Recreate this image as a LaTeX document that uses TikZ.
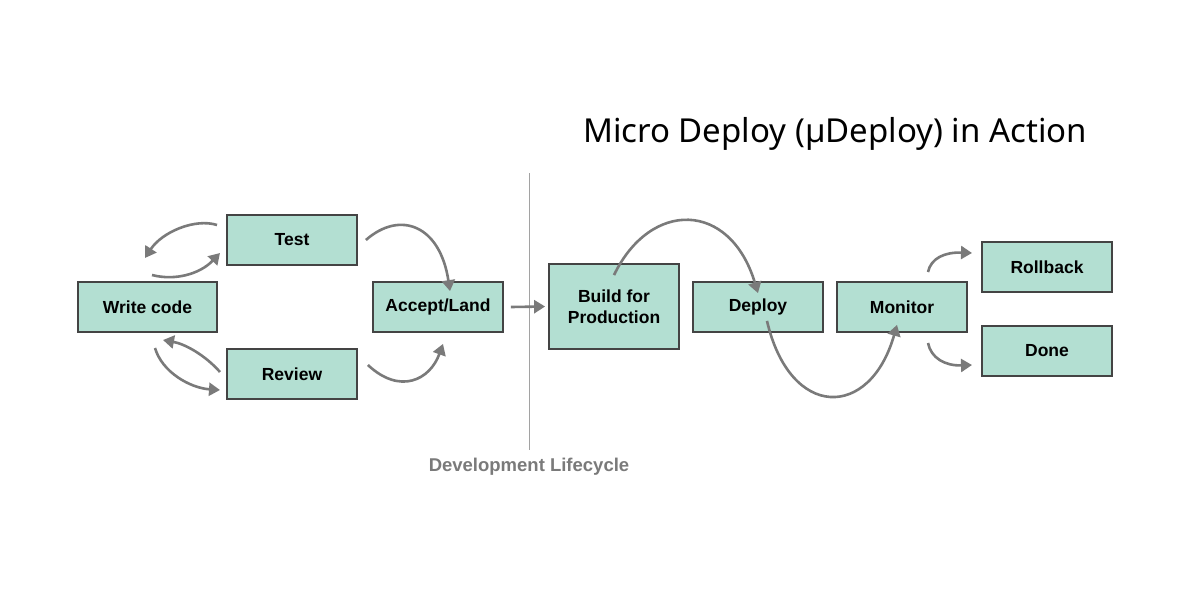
\documentclass[tikz,border=0pt]{standalone}
\usepackage{fontspec}
\setmainfont{Liberation Sans}
\newfontfamily\titlefont{Noto Sans}
\usetikzlibrary{arrows.meta}
\definecolor{boxfill}{HTML}{B3DFD2}
\definecolor{boxline}{HTML}{444444}
\definecolor{arr}{HTML}{7A7A7A}
\begin{document}
\begin{tikzpicture}[x=1pt,y=-1pt,
  box/.style={draw=boxline,line width=1.8pt,fill=boxfill,font=\bfseries\fontsize{17.5}{21}\selectfont,align=center,inner sep=0pt},
  ar/.style={draw=arr,line width=2.6pt,-{Triangle[length=11pt,width=13pt]}}]
\useasboundingbox (0,0) rectangle (1200,600);
\node[box,minimum width=139pt,minimum height=50pt] (wc) at (147.5,307) {Write code};
\node[box,minimum width=130pt,minimum height=50pt] (test) at (292,240) {Test};
\node[box,minimum width=130pt,minimum height=50pt] (rev) at (292,374) {Review};
\node[box,minimum width=130pt,minimum height=50pt] (acc) at (438,307) {Accept/Land};
\node[box,minimum width=130pt,minimum height=85pt] (build) at (614,306.5) {Build for\\Production};
\node[box,minimum width=130pt,minimum height=50pt] (dep) at (758,307) {Deploy};
\node[box,minimum width=130pt,minimum height=50pt] (mon) at (902,307) {Monitor};
\node[box,minimum width=130pt,minimum height=50pt] (rb) at (1047,267) {Rollback};
\node[box,minimum width=130pt,minimum height=50pt] (done) at (1047,351) {Done};
\node[font=\titlefont\fontsize{33}{38}\selectfont,anchor=center] (title) at (835,134) {Micro Deploy (µDeploy) in Action};
\coordinate (l1) at (529,173); \coordinate (l2) at (529,450);
\draw[arr!70,line width=1pt] (l1) -- (l2);
\node[font=\bfseries\fontsize{18.5}{22}\selectfont,text=arr] (dl) at (529,467) {Development Lifecycle};
% loop end points
\coordinate (t1) at (217,225); \coordinate (w1) at (145,258);
\coordinate (w2) at (152,275); \coordinate (t2) at (220,253);
\coordinate (r1) at (220,372); \coordinate (w3) at (163,340);
\coordinate (w4) at (155,348); \coordinate (r2) at (220,390);
\coordinate (m1) at (928,272); \coordinate (rb1) at (972,253);
\coordinate (m2) at (928,343); \coordinate (d1) at (972,365);
\draw[ar] (t1) .. controls (195,218) and (162,232) .. (w1);
\draw[ar] (w2) .. controls (175,281) and (200,274) .. (t2);
\draw[ar] (r1) .. controls (205,355) and (185,344) .. (w3);
\draw[ar] (w4) .. controls (162,372) and (190,388) .. (r2);
\draw[ar] ([xshift=8pt]test.east) .. controls (400,210) and (440,225) .. ([xshift=12pt,yshift=-10pt]acc.north);
\draw[ar] ([xshift=10pt,yshift=9pt]rev.east) .. controls (400,395) and (430,380) .. ([xshift=5pt,yshift=-11pt]acc.south);
\draw[ar] ([xshift=7pt]acc.east) -- ([xshift=-3pt]build.west);
\draw[ar] ([yshift=-12pt]build.north) .. controls (650,200) and (730,200) .. ([yshift=-12pt]dep.north);
\draw[ar] ([xshift=9pt,yshift=12pt]dep.south) .. controls (790,420) and (870,420) .. ([xshift=-5pt,yshift=8pt]mon.south);
\draw[ar] (m1) .. controls (931,258) and (945,252) .. (rb1);
\draw[ar] (m2) .. controls (931,358) and (945,366) .. (d1);
\end{tikzpicture}
\end{document}
